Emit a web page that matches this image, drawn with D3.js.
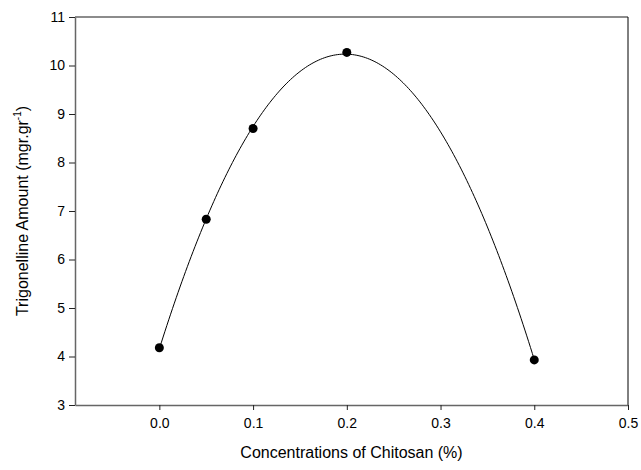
<!DOCTYPE html>
<html>
<head>
<meta charset="utf-8">
<script src="https://cdn.jsdelivr.net/npm/d3@7"></script>
<style>
  body { margin: 0; background: #fff; }
  text { font-family: "Liberation Sans", Arial, sans-serif; }
</style>
</head>
<body>
<svg></svg>
<script>
const width = 641;
const height = 470;
const margin = {top: 17, right: 13, bottom: 65, left: 75};

const concentrations = [0, 0.05, 0.1, 0.2, 0.4];
const trigonelline = [4.18, 6.83, 8.70, 10.27, 3.93];
const xTicks = [0, 0.1, 0.2, 0.3, 0.4, 0.5];
const yTicks = [3, 4, 5, 6, 7, 8, 9, 10, 11];

let svg = d3.select("svg")
    .attr("width", width)
    .attr("height", height)

let xScale = d3.scaleLinear()
    .domain([-0.09, 0.5])
    .range([margin.left, width - margin.right])
let yScale = d3.scaleLinear()
    .domain([3, 11])
    .range([height - margin.bottom, margin.top])

// quadratic regression, as the original fit line
function quadFit(xs, ys) {
    let s = [0, 0, 0, 0, 0], t = [0, 0, 0];
    xs.forEach((x, i) => {
        for (let k = 0; k < 5; k++) s[k] += Math.pow(x, k);
        for (let k = 0; k < 3; k++) t[k] += ys[i] * Math.pow(x, k);
    });
    let m = [[s[0], s[1], s[2], t[0]], [s[1], s[2], s[3], t[1]], [s[2], s[3], s[4], t[2]]];
    for (let i = 0; i < 3; i++) {
        for (let j = i + 1; j < 3; j++) {
            let f = m[j][i] / m[i][i];
            for (let k = i; k < 4; k++) m[j][k] -= f * m[i][k];
        }
    }
    let c = [0, 0, 0];
    for (let i = 2; i >= 0; i--) {
        let v = m[i][3];
        for (let k = i + 1; k < 3; k++) v -= m[i][k] * c[k];
        c[i] = v / m[i][i];
    }
    return x => c[0] + c[1] * x + c[2] * x * x;
}
let fit = quadFit(concentrations, trigonelline);
let curve = d3.range(0, 0.4001, 0.002).map(x => [x, fit(x)]);

let x0 = margin.left, x1 = width - margin.right;
let y0 = height - margin.bottom, y1 = margin.top;

// frame: top and right
svg.append("line")
    .attr("x1", x0).attr("x2", x1).attr("y1", y1).attr("y2", y1)
    .attr("stroke", "#666").attr("stroke-width", 1.5)
svg.append("line")
    .attr("x1", x1).attr("x2", x1).attr("y1", y1).attr("y2", y0)
    .attr("stroke", "#000").attr("stroke-width", 1)

svg.append("g")
    .attr("transform", `translate(0, ${y0})`)
    .classed("x-axis", true)
    .call(d3.axisBottom(xScale).tickValues(xTicks).tickFormat(d3.format(".1f")).tickSize(5).tickSizeOuter(0))
svg.append("g")
    .attr("transform", `translate(${x0}, 0)`)
    .classed("y-axis", true)
    .call(d3.axisLeft(yScale).tickValues(yTicks).tickFormat(d3.format("d")).tickSize(6).tickSizeOuter(0))

svg.selectAll(".x-axis path, .y-axis path")
    .attr("stroke", "#666").attr("stroke-width", 1.5)
svg.selectAll(".tick line").attr("stroke", "#222")
svg.selectAll(".tick text")
    .style("font-family", "Liberation Sans, Arial, sans-serif")
    .style("font-size", "14px")
    .attr("fill", "#000")
svg.selectAll(".x-axis .tick text").attr("y", 13)
svg.selectAll(".y-axis .tick text").attr("x", -10)

svg.append("path")
    .datum(curve)
    .attr("fill", "none")
    .attr("stroke", "#000")
    .attr("stroke-width", 1)
    .attr("d", d3.line().x(d => xScale(d[0])).y(d => yScale(d[1])))

svg.selectAll("circle")
    .data(concentrations)
    .enter()
    .append("circle")
    .attr("cx", d => xScale(d))
    .attr("cy", (d, i) => yScale(trigonelline[i]))
    .attr("r", 4.5)
    .attr("fill", "#000")

svg.append("text")
    .attr("x", (x0 + x1) / 2)
    .attr("y", height - 12)
    .style("text-anchor", "middle")
    .style("font-size", "16px")
    .text("Concentrations of Chitosan (%)")

let yTitle = svg.append("text")
    .attr("transform", "rotate(-90)")
    .attr("x", -(y0 + y1) / 2)
    .attr("y", 28)
    .style("text-anchor", "middle")
    .style("font-size", "16px")
yTitle.append("tspan").text("Trigonelline Amount (mgr.gr")
yTitle.append("tspan").attr("dy", -7).style("font-size", "10px").text("-1")
yTitle.append("tspan").attr("dy", 7).text(")")
</script>
</body>
</html>
